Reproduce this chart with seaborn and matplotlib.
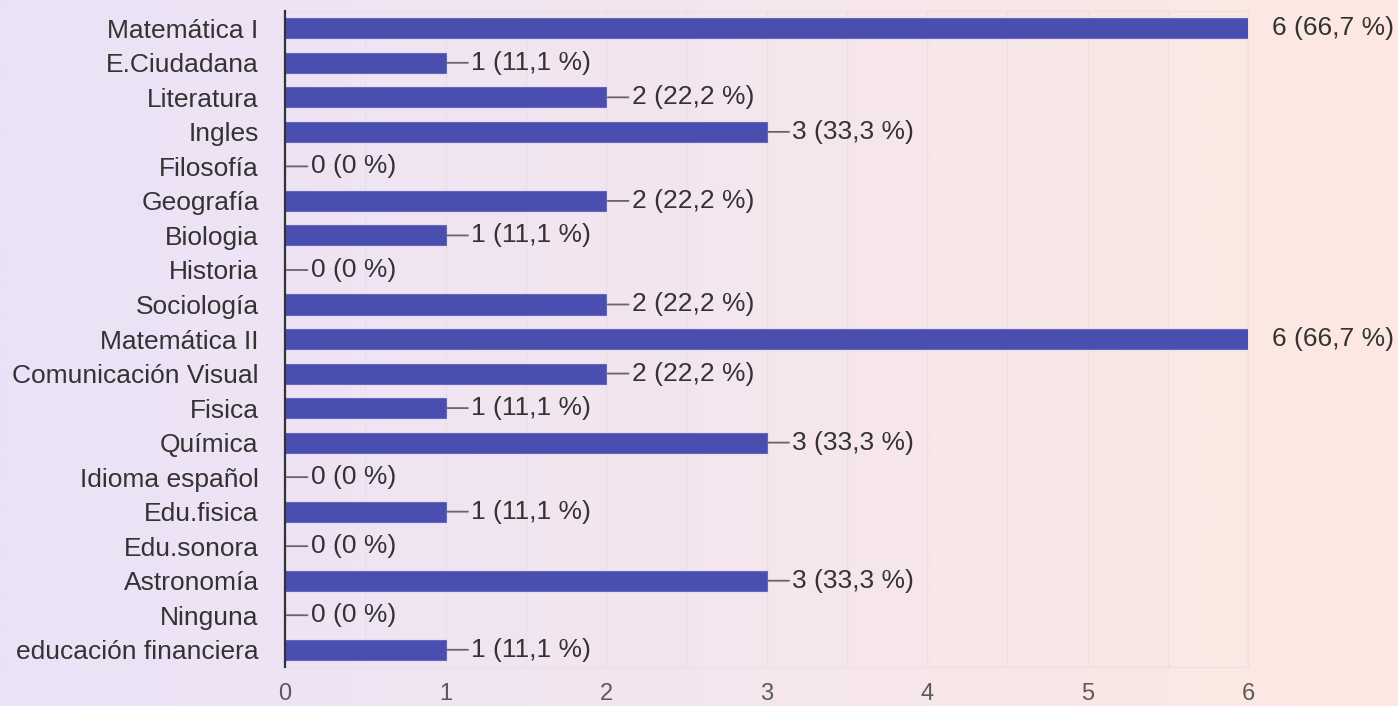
import numpy as np
import pandas as pd
import matplotlib
matplotlib.use("Agg")
import matplotlib.pyplot as plt
import seaborn as sns
from matplotlib.colors import LinearSegmentedColormap

categories = ["Matemática I", "E.Ciudadana", "Literatura", "Ingles", "Filosofía",
              "Geografía", "Biologia", "Historia", "Sociología", "Matemática II",
              "Comunicación Visual", "Fisica", "Química", "Idioma español",
              "Edu.fisica", "Edu.sonora", "Astronomía", "Ninguna",
              "educación financiera"]
values = [6, 1, 2, 3, 0, 2, 1, 0, 2, 6, 2, 1, 3, 0, 1, 0, 3, 0, 1]
percents = ["66,7", "11,1", "22,2", "33,3", "0", "22,2", "11,1", "0", "22,2", "66,7",
            "22,2", "11,1", "33,3", "0", "11,1", "0", "33,3", "0", "11,1"]
x_ticks = [0, 1, 2, 3, 4, 5, 6]

sns.set_theme(style="white")
plt.rcParams["font.family"] = ["Liberation Sans", "DejaVu Sans"]

FS = 19

fig = plt.figure(figsize=(13.98, 7.06), dpi=100)
bg = fig.add_axes([0, 0, 1, 1], zorder=-10)
grad = np.linspace(0, 1, 512).reshape(1, -1)
cmap = LinearSegmentedColormap.from_list("bg", ["#ebe2f8", "#f4e6ef", "#fde9e0"])
bg.imshow(grad, aspect="auto", cmap=cmap, extent=[0, 1, 0, 1])
bg.axis("off")

ax = fig.add_axes([0.2039, 0.0552, 0.6889, 0.9292])
ax.patch.set_alpha(0)
df = pd.DataFrame({"cat": categories, "val": values})
sns.barplot(data=df, x="val", y="cat", orient="h", color="#4a4eaf", width=0.58,
            saturation=1, ax=ax, edgecolor="#6367c0", linewidth=0.8, zorder=3)

ax.set_xlim(0, 6)
ax.set_ylim(len(categories) - 0.5, -0.5)
ax.set_xticks(x_ticks)
ax.set_xticks(np.arange(0, 6.01, 0.5), minor=True)
ax.grid(axis="x", which="both", color="#ebdfe6", lw=1, zorder=0)
ax.set_xlabel("")
ax.set_ylabel("")
for s in ["top", "bottom", "right"]:
    ax.spines[s].set_color("#ecdfe6")
    ax.spines[s].set_linewidth(1)
ax.spines["left"].set_color("#333333")
ax.spines["left"].set_linewidth(1.6)
ax.spines["left"].set_zorder(5)
ax.tick_params(axis="y", length=0, pad=19, labelsize=FS, labelcolor="#333333")
ax.tick_params(axis="x", which="both", length=0, pad=11.5, labelsize=17, labelcolor="#5a5a5a")

vmax = max(values)
for i, (v, p) in enumerate(zip(values, percents)):
    txt = f"{v} ({p} %)"
    if v == vmax:
        ax.annotate(txt, xy=(v, i), xytext=(17, 0), textcoords="offset points",
                    ha="left", va="center", fontsize=FS, color="#333333",
                    annotation_clip=False)
    else:
        ax.annotate(txt, xy=(v, i), xytext=(18.5, 0), textcoords="offset points",
                    ha="left", va="center", fontsize=FS, color="#333333",
                    arrowprops=dict(arrowstyle="-", color="#666666", lw=1.3,
                                    shrinkA=0, shrinkB=1.2),
                    annotation_clip=False)

fig.savefig("out.png", dpi=100)
